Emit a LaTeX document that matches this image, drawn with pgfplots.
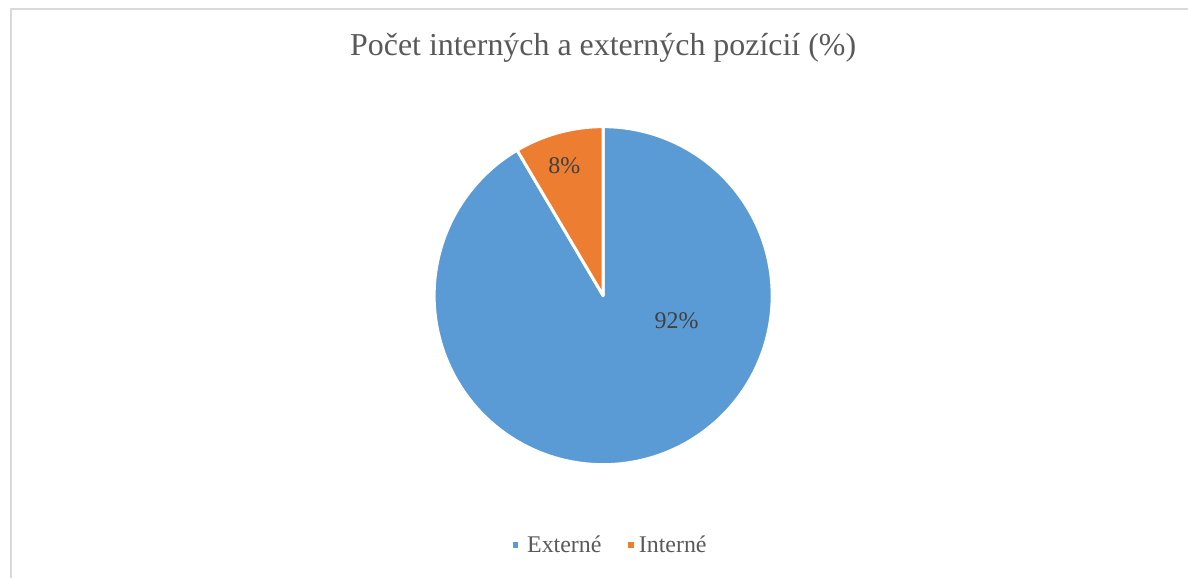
\documentclass[border=0pt]{standalone}
\usepackage{fontspec}
\setmainfont{Liberation Serif}
\usepackage{pgfplots}
\usepackage{pgfplotstable}
\pgfplotsset{compat=1.18}
\definecolor{pieblue}{HTML}{5B9BD5}
\definecolor{pieorange}{HTML}{ED7D31}
\definecolor{titlegray}{HTML}{595959}
\definecolor{labelgray}{HTML}{404040}
\definecolor{framegray}{HTML}{D9D9D9}
\pgfplotstableread{
name value
Externe 91.5
Interne 8.5
}\piedata
\begin{document}
\pgfplotstablegetelem{0}{value}\of\piedata
\let\vA\pgfplotsretval
\pgfmathsetmacro{\angA}{90-3.6*\vA}
\begin{tikzpicture}[x=0.75pt,y=0.75pt]
\path[use as bounding box] (0,0) rectangle (1188,580);
\draw[framegray, line width=1.5pt] (8,0) -- (8,571) -- (1188,571);
\node[anchor=base, font=\fontsize{24pt}{28pt}\selectfont, text=titlegray] at (601.5,524.5) {Počet interných a externých pozícií (\%)};
\coordinate (pc) at (601.5,283.5);
\begin{axis}[at={(pc)}, anchor=center, hide axis, scale only axis,
  width=254.25pt, height=254.25pt, xmin=-1, xmax=1, ymin=-1, ymax=1, clip=false]
\addplot[fill=pieblue, draw=white, line width=2.25pt, line join=round, domain=\angA:90, samples=200, variable=\t]
  ({cos(\t)},{sin(\t)}) -- (axis cs:0,0) -- cycle;
\addplot[fill=pieorange, draw=white, line width=2.25pt, line join=round, domain=90:\angA+360, samples=40, variable=\t]
  ({cos(\t)},{sin(\t)}) -- (axis cs:0,0) -- cycle;
\node[anchor=base, font=\fontsize{18pt}{21pt}\selectfont, text=labelgray] at (axis cs:0.434,-0.1935) {92\%};
\node[anchor=base, font=\fontsize{18pt}{21pt}\selectfont, text=labelgray] at (axis cs:-0.230,0.7227) {8\%};
\end{axis}
\fill[pieblue] (510.7,30.5) rectangle (516.2,36);
\node[anchor=base west, inner sep=0pt, font=\fontsize{18pt}{21pt}\selectfont, text=titlegray] at (525,25.7) {Externé};
\fill[pieorange] (626.7,30.5) rectangle (632.2,36);
\node[anchor=base west, inner sep=0pt, font=\fontsize{18pt}{21pt}\selectfont, text=titlegray] at (637,25.7) {Interné};
\end{tikzpicture}
\end{document}
